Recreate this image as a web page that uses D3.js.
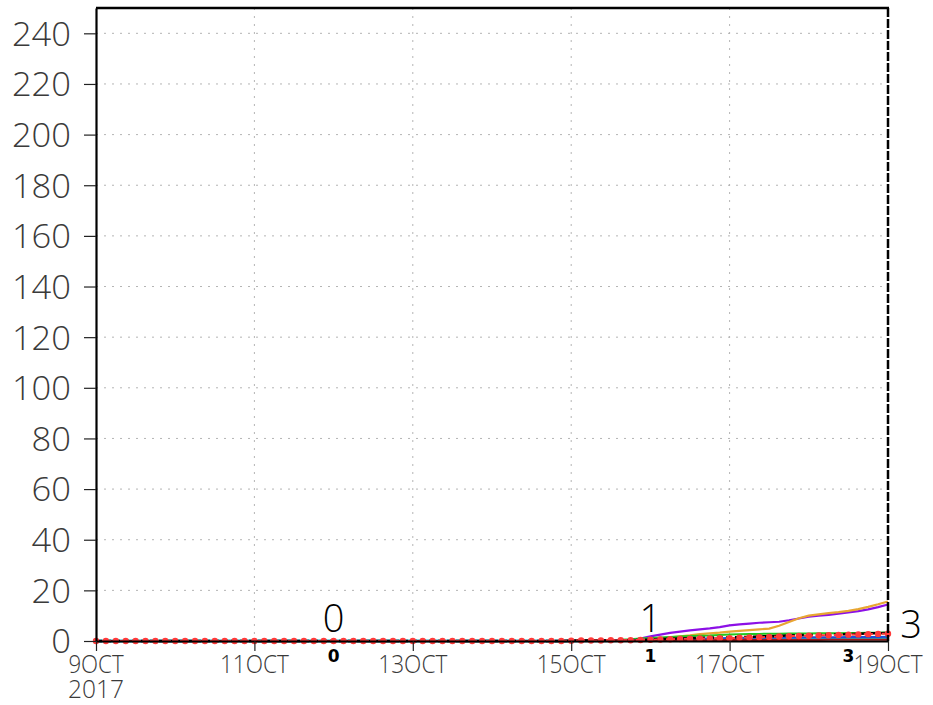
<!DOCTYPE html>
<html><head><meta charset="utf-8">
<script src="https://cdn.jsdelivr.net/npm/d3@7"></script>
<style>
html,body{margin:0;padding:0;background:#fff;}
svg{display:block;}
</style></head>
<body>
<svg id="chart" width="933" height="705"></svg>
<script>
// ---- data (3-hourly, 2017-10-09 00Z .. 2017-10-19 00Z, 81 steps) ----
const startTime = "2017-10-09T00:00:00Z";
const stepHours = 3;
const yTicks = [0,20,40,60,80,100,120,140,160,180,200,220,240];
const xTickDays = ["2017-10-09","2017-10-11","2017-10-13","2017-10-15","2017-10-17","2017-10-19"];
const xTickLabels = ["9OCT","11OCT","13OCT","15OCT","17OCT","19OCT"];
const xYearLabel = "2017";

const purple = [
 0,0,0,0,0,0,0,0,0,0,
 0,0,0,0,0,0,0,0,0,0,
 0,0,0,0,0,0,0,0,0,0,
 0,0,0,0,0,0,0,0,0,0,
 0,0,0,0,0,0,0,0,0.1,0.2,
 0.2,0.2,0.2,0.3,0.4,1.0,1.8,2.5,3.2,3.7,
 4.2,4.6,5.0,5.5,6.2,6.6,6.9,7.2,7.4,7.6,
 8.2,8.9,9.6,10.0,10.3,10.8,11.3,11.8,12.5,13.4,
 14.4];
const orange = [
 0,0,0,0,0,0,0,0,0,0,
 0,0,0,0,0,0,0,0,0,0,
 0,0,0,0,0,0,0,0,0,0,
 0,0,0,0,0,0,0,0,0,0,
 0,0,0,0,0,0,0,0,0.2,0.3,
 0.3,0.3,0.4,0.4,0.4,0.5,0.6,1.0,1.4,1.8,
 2.2,2.7,3.0,3.3,3.7,4.0,4.3,4.6,4.9,6.0,
 7.5,9.0,10.0,10.5,11.0,11.4,11.9,12.6,13.5,14.5,
 15.6];
const green = [
 0,0,0,0,0,0,0,0,0,0,
 0,0,0,0,0,0,0,0,0,0,
 0,0,0,0,0,0,0,0,0,0,
 0,0,0,0,0,0,0,0,0,0,
 0,0,0,0,0,0,0,0,0.2,0.3,
 0.3,0.3,0.4,0.5,0.7,1.0,1.2,1.4,1.6,1.8,
 2.0,2.1,2.2,2.4,2.6,2.7,2.8,2.8,2.9,2.9,
 3.0,3.0,3.0,3.1,3.1,3.1,3.2,3.2,3.3,3.3,
 3.4];
const blue = [
 0,0,0,0,0,0,0,0,0,0,
 0,0,0,0,0,0,0,0,0,0,
 0,0,0,0,0,0,0,0,0,0,
 0,0,0,0,0,0,0,0,0,0,
 0,0,0,0,0,0,0,0,0.1,0.1,
 0.1,0.2,0.2,0.2,0.3,0.4,0.5,0.6,0.7,0.8,
 0.9,1.0,1.0,1.1,1.2,1.2,1.3,1.3,1.3,1.4,
 1.4,1.4,1.5,1.5,1.5,1.5,1.6,1.6,1.6,1.6,
 1.7];
const teal = [
 0,0,0,0,0,0,0,0,0,0,
 0,0,0,0,0,0,0,0,0,0,
 0,0,0,0,0,0,0,0,0,0,
 0,0,0,0,0,0,0,0,0,0,
 0,0,0,0,0,0,0,0,0,0.1,
 0.1,0.1,0.1,0.2,0.2,0.3,0.3,0.4,0.4,0.5,
 0.5,0.6,0.6,0.6,0.7,0.7,0.7,0.8,0.8,0.8,
 0.8,0.9,0.9,0.9,0.9,1.0,1.0,1.0,1.0,1.0,
 1.1];
const darkred = [
 0,0,0,0,0,0,0,0,0,0,
 0,0,0,0,0,0,0,0,0,0,
 0,0,0,0,0,0,0,0,0,0,
 0,0,0,0,0,0,0,0,0,0,
 0,0,0,0,0,0,0,0,0.1,0.2,
 0.3,0.3,0.3,0.3,0.3,0.3,0.3,0.3,0.3,0.3,
 0.3,0.3,0.3,0.4,0.4,0.4,0.4,0.4,0.4,0.4,
 0.4,0.4,0.4,0.4,0.5,0.5,0.5,0.5,0.5,0.5,
 0.5];
const black = [
 0,0,0,0,0,0,0,0,0,0,
 0,0,0,0,0,0,0,0,0,0,
 0,0,0,0,0,0,0,0,0,0,
 0,0,0,0,0,0,0,0,0,0,
 0,0,0,0,0,0,0,0,0.1,0.2,
 0.2,0.2,0.2,0.3,0.3,0.4,0.5,0.7,0.9,1.0,
 1.1,1.2,1.3,1.4,1.4,1.5,1.6,1.8,1.9,2.0,
 2.2,2.3,2.4,2.4,2.5,2.6,2.7,2.8,3.0,3.1,
 3.2];
const red = [
 0,0,0,0,0,0,0,0,0,0,
 0,0,0,0,0,0,0,0,0,0,
 0,0,0,0,0,0,0,0,0,0,
 0,0,0,0,0,0,0,0,0,0,
 0,0,0,0,0,0,0,0,0.1,0.2,
 0.2,0.2,0.3,0.3,0.3,0.4,0.5,0.6,0.7,0.8,
 0.9,1.0,1.0,1.1,1.1,1.3,1.4,1.5,1.6,1.8,
 1.9,2.0,2.1,2.2,2.3,2.4,2.5,2.6,2.7,2.8,
 2.9];

// annotation labels (text, time) — large above, small below axis
const bigLabels = [{t:"0", d:"2017-10-12T00:00:00Z"}, {t:"1", d:"2017-10-16T00:00:00Z"}, {t:"3", d:"2017-10-19T07:00:00Z"}];
const smallLabels = [{t:"0", d:"2017-10-12T00:00:00Z"}, {t:"1", d:"2017-10-16T00:00:00Z"}, {t:"3", d:"2017-10-18T12:00:00Z"}];

// ---- chart ----
const FONT = "'Open Sans', Roboto, 'DejaVu Sans', sans-serif";
const svg = d3.select("#chart");
const L = 96, R = 888, T = 8, B = 641;
const t0 = new Date(startTime);
const times = purple.map((_, i) => d3.utcHour.offset(t0, i * stepHours));
const x = d3.scaleUtc().domain([new Date("2017-10-09T00:00:00Z"), new Date("2017-10-19T00:00:00Z")]).range([L, R]);
const y = d3.scaleLinear().domain([0, 250]).range([B, T]);

// grid
const grid = svg.append("g");
grid.selectAll("line.h").data(yTicks.filter(v => v > 0)).enter().append("line")
  .attr("x1", L).attr("x2", R).attr("y1", d => y(d)).attr("y2", d => y(d))
  .attr("stroke", "#b4b4b4").attr("stroke-width", 1).attr("stroke-dasharray", "2,6");
grid.selectAll("line.v").data(xTickDays.slice(1, -1)).enter().append("line")
  .attr("x1", d => x(new Date(d + "T00:00:00Z"))).attr("x2", d => x(new Date(d + "T00:00:00Z")))
  .attr("y1", T).attr("y2", B)
  .attr("stroke", "#b4b4b4").attr("stroke-width", 1).attr("stroke-dasharray", "2,6");

// series
const line = d3.line().x((d, i) => x(times[i])).y(d => y(d));
const series = [
  {v: purple, c: "#8c10e6", w: 2.2},
  {v: orange, c: "#e8a632", w: 2.2},
  {v: green, c: "#20c820", w: 2},
  {v: teal, c: "#20a8c0", w: 3},
  {v: blue, c: "#1c50d8", w: 2},
  {v: darkred, c: "#a01818", w: 2},
];
series.forEach(s => {
  svg.append("path").datum(s.v).attr("d", line)
    .attr("fill", "none").attr("stroke", s.c).attr("stroke-width", s.w);
});
svg.append("path").datum(black).attr("d", line).attr("fill", "none")
  .attr("stroke", "#000").attr("stroke-width", 2.5).attr("stroke-dasharray", "6,3");
svg.append("path").datum(red).attr("d", line).attr("fill", "none")
  .attr("stroke", "#ff3a3a").attr("stroke-width", 2).attr("stroke-dasharray", "3,3");
svg.append("g").selectAll("circle").data(red).enter().append("circle")
  .attr("cx", (d, i) => x(times[i])).attr("cy", d => y(d)).attr("r", 3.2)
  .attr("fill", "#ff3a3a");

// frame
svg.append("line").attr("x1", L).attr("x2", R + 1).attr("y1", T).attr("y2", T).attr("stroke", "#000").attr("stroke-width", 2.5);
svg.append("line").attr("x1", R).attr("x2", R).attr("y1", T).attr("y2", B).attr("stroke", "#000").attr("stroke-width", 2.5).attr("stroke-dasharray", "9,2");

// y axis
const yAxis = d3.axisLeft(y).tickValues(yTicks).tickSize(12).tickSizeOuter(0).tickPadding(13).tickFormat(d3.format("d"));
const gy = svg.append("g").attr("transform", `translate(${L},0)`).call(yAxis);
gy.select(".domain").attr("stroke", "#000").attr("stroke-width", 2.2);
gy.selectAll(".tick line").attr("stroke", "#222").attr("stroke-width", 1.2);
gy.selectAll(".tick text")
  .attr("font-family", FONT).attr("font-weight", 300)
  .attr("font-size", 33).attr("fill", "#3a3a3a").attr("dy", "0.36em")
  .each(function(d){ const s = String(d); d3.select(this).attr("textLength", s.length * 19.7).attr("lengthAdjust", "spacingAndGlyphs"); });

// x axis
const xAxis = d3.axisBottom(x).tickValues(xTickDays.map(d => new Date(d + "T00:00:00Z"))).tickSize(10).tickSizeOuter(0).tickFormat("");
const gx = svg.append("g").attr("transform", `translate(0,${B})`).call(xAxis);
gx.select(".domain").attr("stroke", "#000").attr("stroke-width", 2);
gx.selectAll(".tick line").attr("stroke", "#222").attr("stroke-width", 1.2);
xTickDays.forEach((d, i) => {
  const lbl = xTickLabels[i];
  const px = x(new Date(d + "T00:00:00Z"));
  const t = svg.append("text").attr("text-anchor", "middle").attr("font-family", FONT)
    .attr("font-weight", 300).attr("font-size", 25).attr("fill", "#3a3a3a");
  t.append("tspan").attr("x", px).attr("y", 673)
    .attr("textLength", lbl.length * 13.8).attr("lengthAdjust", "spacingAndGlyphs").text(lbl);
  if (i === 0) {
    t.append("tspan").attr("x", px).attr("y", 698)
      .attr("textLength", 56).attr("lengthAdjust", "spacingAndGlyphs").text(xYearLabel);
  }
});

// annotations
bigLabels.forEach(a => {
  svg.append("text").attr("x", x(new Date(a.d))).attr("y", B - 9)
    .attr("text-anchor", "middle").attr("font-family", FONT)
    .attr("font-weight", 300).attr("font-size", 38).attr("fill", "#000")
    .attr("dy", a.t === "3" ? 6 : 0).text(a.t);
});
smallLabels.forEach(a => {
  svg.append("text").attr("x", x(new Date(a.d))).attr("y", 662)
    .attr("text-anchor", "middle").attr("font-family", "'DejaVu Sans', sans-serif")
    .attr("font-weight", "bold").attr("font-size", 17).attr("fill", "#000").text(a.t);
});
</script>
</body></html>
